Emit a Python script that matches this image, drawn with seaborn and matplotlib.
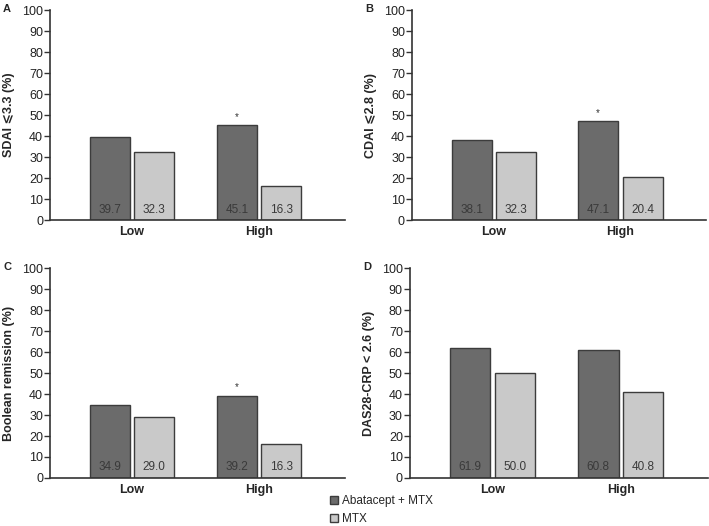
import pandas as pd
import matplotlib.pyplot as plt
import seaborn as sns
from matplotlib.patches import Patch

# datos
groups = ['Low', 'High']
treatments = ['Abatacept + MTX', 'MTX']
sdai = [39.7, 32.3, 45.1, 16.3]
cdai = [38.1, 32.3, 47.1, 20.4]
boolean = [34.9, 29.0, 39.2, 16.3]
das28 = [61.9, 50.0, 60.8, 40.8]
panel_letters = ['A', 'B', 'C', 'D']
y_labels = ['SDAI \u2a7d3.3 (%)', 'CDAI \u2a7d2.8 (%)', 'Boolean remission (%)', 'DAS28-CRP < 2.6 (%)']
significant = [True, True, True, False]  # asterisco sobre barra High abatacept

colors = {'Abatacept + MTX': '#6b6b6b', 'MTX': '#c9c9c9'}
edge = '#3c3c3c'

sns.set_style('white')
plt.rcParams['font.family'] = ['Liberation Sans', 'DejaVu Sans']

fig = plt.figure(figsize=(7.09, 5.26), dpi=100)
positions = [
    [0.0705, 0.5817, 0.416, 0.399],
    [0.581, 0.5817, 0.415, 0.399],
    [0.0705, 0.0913, 0.416, 0.399],
    [0.578, 0.0913, 0.42, 0.399],
]

for i, vals in enumerate([sdai, cdai, boolean, das28]):
    df = pd.DataFrame({
        'group': [g for g in groups for _ in treatments],
        'treatment': treatments * len(groups),
        'value': vals,
    })
    ax = fig.add_axes(positions[i])
    sns.barplot(data=df, x='group', y='value', hue='treatment', order=groups,
                hue_order=treatments, palette=colors, width=0.7, gap=0.1,
                edgecolor=edge, linewidth=1.0, legend=False, ax=ax)
    ax.set_xlim(-0.646, 1.677)
    ax.set_ylim(0, 100)
    ax.set_yticks(range(0, 101, 10))
    ax.tick_params(axis='y', length=4, width=1, color='#333333', labelsize=9, pad=1,
                   left=True, labelcolor='#222222')
    ax.tick_params(axis='x', length=0, labelsize=9, pad=4)
    for lab in ax.get_xticklabels():
        lab.set_fontweight('bold')
    ax.set_xlabel('')
    ax.set_ylabel(y_labels[i], fontsize=9, fontweight='bold', labelpad=5)
    sns.despine(ax=ax)
    for s in ['left', 'bottom']:
        ax.spines[s].set_color('#333333')
        ax.spines[s].set_linewidth(1.2)

    # etiquetas de valores dentro de las barras
    for container in ax.containers:
        for bar in container:
            h = bar.get_height()
            ax.text(bar.get_x() + bar.get_width() / 2, 5, f'{h:.1f}',
                    ha='center', va='center', fontsize=8.5, color='#3a3a3a')
    if significant[i]:
        bar = ax.containers[0][1]
        ax.text(bar.get_x() + bar.get_width() / 2, bar.get_height() + 4, '*',
                ha='center', va='center', fontsize=7, color='#333333')

    pos = positions[i]
    fig.text(pos[0] - 0.066, pos[1] + pos[3] + 0.002, panel_letters[i],
             fontsize=8, fontweight='bold', ha='left', va='center')

handles = [Patch(facecolor=colors[t], edgecolor=edge, label=t) for t in treatments]
fig.legend(handles=handles, loc='upper left', bbox_to_anchor=(0.465, 0.058),
           frameon=False, fontsize=8.5, handlelength=0.7, handleheight=0.7,
           handletextpad=0.35, labelspacing=0.45, borderaxespad=0, borderpad=0)

fig.savefig('out.png', dpi=100)
plt.close(fig)
